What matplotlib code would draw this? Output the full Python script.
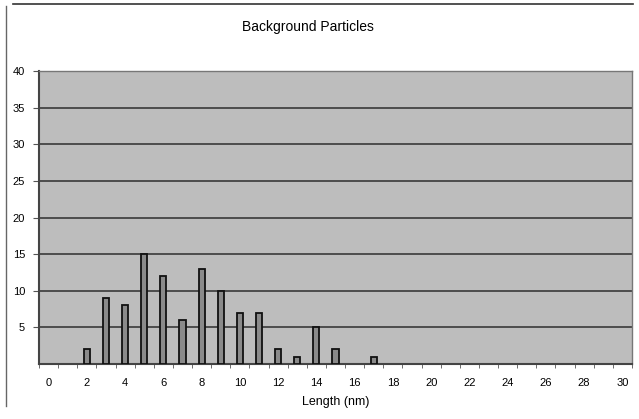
import matplotlib
matplotlib.use("Agg")
import matplotlib.pyplot as plt
from matplotlib.lines import Line2D

lengths = list(range(0, 31))
counts = [0, 0, 2, 9, 8, 15, 12, 6, 13, 10, 7, 7, 2, 1, 5, 2, 0, 1, 0, 0,
          0, 0, 0, 0, 0, 0, 0, 0, 0, 0, 0]
yticks = [5, 10, 15, 20, 25, 30, 35, 40]
xtick_labels = list(range(0, 31, 2))

plt.rcParams['font.family'] = ['Liberation Sans', 'DejaVu Sans']

fig = plt.figure(figsize=(6.39, 4.19), dpi=100)
ax = fig.add_axes([39/639, 1-364/419, (632-39)/639, (364-71)/419])
ax.set_facecolor('#bdbdbd')

xs = [x for x, c in zip(lengths, counts) if c > 0]
cs = [c for c in counts if c > 0]
ax.bar(xs, cs, width=0.32, color='#8a8a8a', edgecolor='#111111', linewidth=1.3, zorder=3)

ax.set_xlim(-0.5, 30.5)
ax.set_ylim(0, 40)
ax.set_yticks(yticks)
ax.set_yticklabels([str(v) for v in yticks], fontsize=8)
ax.yaxis.grid(True, color='#3a3a3a', linewidth=1.2, zorder=1)
ax.set_axisbelow(True)

ax.set_xticks(xtick_labels)
ax.set_xticklabels([str(v) for v in xtick_labels], fontsize=8)
ax.set_xticks([x - 0.5 for x in range(0, 32)], minor=True)
ax.tick_params(axis='x', which='major', length=0, pad=10)
ax.tick_params(axis='x', which='minor', length=3, direction='out', color='#555555')
ax.tick_params(axis='y', length=4, color='#555555', pad=6)

for side in ['left', 'bottom']:
    ax.spines[side].set_color('#444444')
    ax.spines[side].set_linewidth(1.5)
for side in ['right', 'top']:
    ax.spines[side].set_color('#777777')
    ax.spines[side].set_linewidth(1.0)

ax.set_xlabel('Length (nm)', fontsize=9, labelpad=6)
fig.text(308/639, 1-27/419, 'Background Particles', ha='center', va='center', fontsize=10)

# scanned page border lines
fig.add_artist(Line2D([0.02, 0.99], [1-4/419, 1-4/419], transform=fig.transFigure, color='#333333', linewidth=1.2))
fig.add_artist(Line2D([6/639, 6/639], [0.03, 1-6/419], transform=fig.transFigure, color='#666666', linewidth=1.0))

fig.savefig('out.png', dpi=100)
